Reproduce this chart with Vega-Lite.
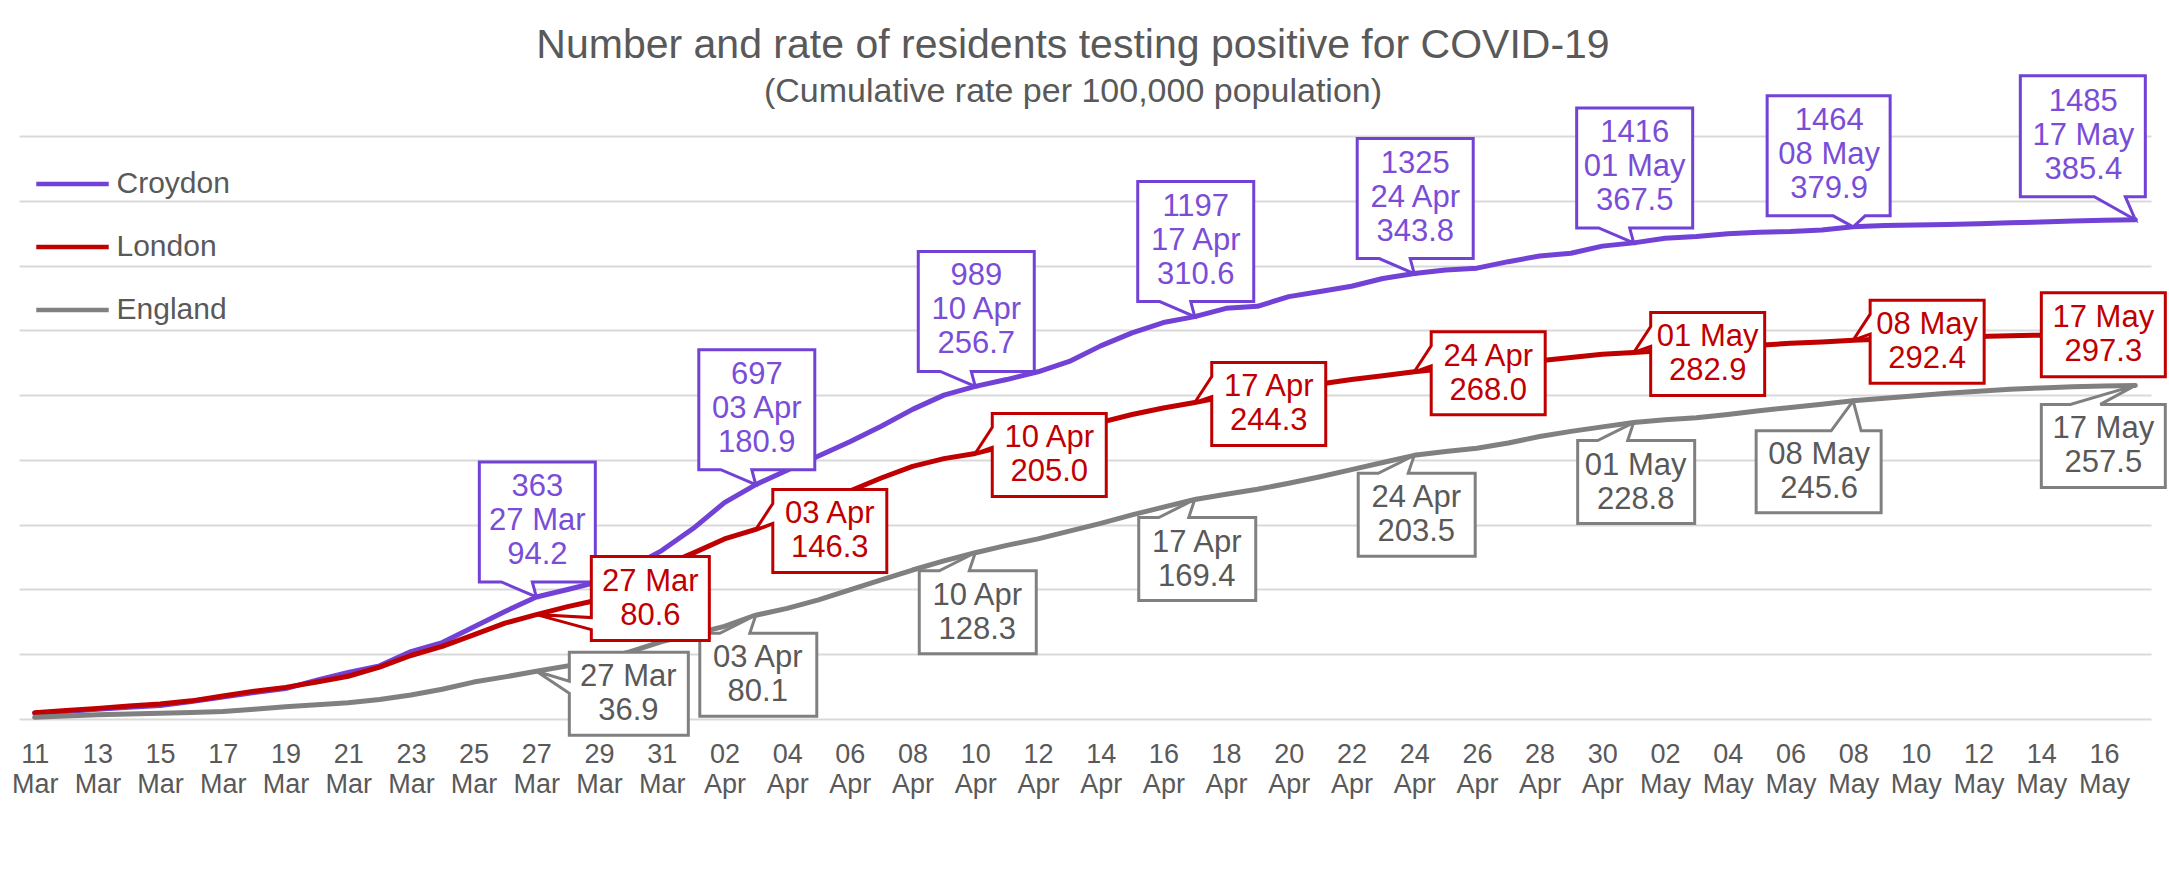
{
  "$schema": "https://vega.github.io/schema/vega-lite/v6.json",
  "width": 2132,
  "height": 583,
  "autosize": {"type": "none"},
  "padding": {"left": 19, "top": 136, "right": 18, "bottom": 162},
  "background": "white",
  "config": {"view": {"stroke": null}, "font": "Liberation Sans"},
  "title": {
    "text": "Number and rate of residents testing positive for COVID-19",
    "subtitle": "(Cumulative rate per 100,000 population)",
    "anchor": "middle",
    "dx": -12,
    "offset": -40,
    "fontSize": 41,
    "fontWeight": "normal",
    "font": "Liberation Sans",
    "color": "#595959",
    "subtitleFontSize": 34,
    "subtitleFont": "Liberation Sans",
    "subtitleColor": "#595959",
    "subtitlePadding": 8
  },
  "encoding": {
    "x": {
      "field": "date",
      "type": "temporal",
      "scale": {"type": "time", "domain": [{"year": 2020, "month": "mar", "date": 10, "hours": 12}, {"year": 2020, "month": "may", "date": 17, "hours": 12}]},
      "axis": {
        "title": null,
        "domain": false,
        "ticks": false,
        "grid": false,
        "tickCount": {"interval": "day", "step": 1},
        "labelExpr": "round((datum.value - datetime(2020,2,11))/86400000) % 2 === 0 ? [timeFormat(datum.value, '%d'), timeFormat(datum.value, '%b')] : ''",
        "labelFontSize": 27,
        "labelFont": "Liberation Sans",
        "labelColor": "#595959",
        "labelPadding": 22,
        "labelLineHeight": 30,
        "labelOverlap": false,
        "labelFlush": false,
        "labelBound": false
      }
    },
    "y": {
      "field": "rate",
      "type": "quantitative",
      "scale": {"domain": [0, 450], "nice": false, "zero": true},
      "axis": {
        "title": null,
        "values": [0, 50, 100, 150, 200, 250, 300, 350, 400, 450],
        "labels": false,
        "ticks": false,
        "domain": false,
        "grid": true,
        "gridColor": "#d9d9d9",
        "gridWidth": 2
      }
    }
  },
  "layer": [
    {
      "data": {
        "format": {"parse": {"date": "date"}},
        "values": [
          {"date": "2020/03/11", "area": "Croydon", "rate": 4.5},
          {"date": "2020/03/12", "area": "Croydon", "rate": 5.8},
          {"date": "2020/03/13", "area": "Croydon", "rate": 7.5},
          {"date": "2020/03/14", "area": "Croydon", "rate": 9.0},
          {"date": "2020/03/15", "area": "Croydon", "rate": 10.5},
          {"date": "2020/03/16", "area": "Croydon", "rate": 13.5},
          {"date": "2020/03/17", "area": "Croydon", "rate": 17.0},
          {"date": "2020/03/18", "area": "Croydon", "rate": 20.5},
          {"date": "2020/03/19", "area": "Croydon", "rate": 23.5},
          {"date": "2020/03/20", "area": "Croydon", "rate": 30.0},
          {"date": "2020/03/21", "area": "Croydon", "rate": 36.0},
          {"date": "2020/03/22", "area": "Croydon", "rate": 41.0},
          {"date": "2020/03/23", "area": "Croydon", "rate": 52.0},
          {"date": "2020/03/24", "area": "Croydon", "rate": 59.0},
          {"date": "2020/03/25", "area": "Croydon", "rate": 71.0},
          {"date": "2020/03/26", "area": "Croydon", "rate": 83.0},
          {"date": "2020/03/27", "area": "Croydon", "rate": 94.2},
          {"date": "2020/03/28", "area": "Croydon", "rate": 100.0},
          {"date": "2020/03/29", "area": "Croydon", "rate": 106.0},
          {"date": "2020/03/30", "area": "Croydon", "rate": 117.0},
          {"date": "2020/03/31", "area": "Croydon", "rate": 130.0},
          {"date": "2020/04/01", "area": "Croydon", "rate": 147.0},
          {"date": "2020/04/02", "area": "Croydon", "rate": 167.0},
          {"date": "2020/04/03", "area": "Croydon", "rate": 180.9},
          {"date": "2020/04/04", "area": "Croydon", "rate": 192.0},
          {"date": "2020/04/05", "area": "Croydon", "rate": 203.0},
          {"date": "2020/04/06", "area": "Croydon", "rate": 214.0},
          {"date": "2020/04/07", "area": "Croydon", "rate": 226.0},
          {"date": "2020/04/08", "area": "Croydon", "rate": 239.0},
          {"date": "2020/04/09", "area": "Croydon", "rate": 250.0},
          {"date": "2020/04/10", "area": "Croydon", "rate": 256.7},
          {"date": "2020/04/11", "area": "Croydon", "rate": 262.0},
          {"date": "2020/04/12", "area": "Croydon", "rate": 268.0},
          {"date": "2020/04/13", "area": "Croydon", "rate": 276.0},
          {"date": "2020/04/14", "area": "Croydon", "rate": 288.0},
          {"date": "2020/04/15", "area": "Croydon", "rate": 298.0},
          {"date": "2020/04/16", "area": "Croydon", "rate": 306.0},
          {"date": "2020/04/17", "area": "Croydon", "rate": 310.6},
          {"date": "2020/04/18", "area": "Croydon", "rate": 317.0},
          {"date": "2020/04/19", "area": "Croydon", "rate": 318.5},
          {"date": "2020/04/20", "area": "Croydon", "rate": 326.0},
          {"date": "2020/04/21", "area": "Croydon", "rate": 330.0},
          {"date": "2020/04/22", "area": "Croydon", "rate": 334.0},
          {"date": "2020/04/23", "area": "Croydon", "rate": 340.0},
          {"date": "2020/04/24", "area": "Croydon", "rate": 343.8},
          {"date": "2020/04/25", "area": "Croydon", "rate": 346.6},
          {"date": "2020/04/26", "area": "Croydon", "rate": 348.0},
          {"date": "2020/04/27", "area": "Croydon", "rate": 353.0},
          {"date": "2020/04/28", "area": "Croydon", "rate": 357.4},
          {"date": "2020/04/29", "area": "Croydon", "rate": 359.5},
          {"date": "2020/04/30", "area": "Croydon", "rate": 365.0},
          {"date": "2020/05/01", "area": "Croydon", "rate": 367.5},
          {"date": "2020/05/02", "area": "Croydon", "rate": 371.0},
          {"date": "2020/05/03", "area": "Croydon", "rate": 372.4},
          {"date": "2020/05/04", "area": "Croydon", "rate": 374.5},
          {"date": "2020/05/05", "area": "Croydon", "rate": 375.7},
          {"date": "2020/05/06", "area": "Croydon", "rate": 376.2},
          {"date": "2020/05/07", "area": "Croydon", "rate": 377.5},
          {"date": "2020/05/08", "area": "Croydon", "rate": 379.9},
          {"date": "2020/05/09", "area": "Croydon", "rate": 381.0},
          {"date": "2020/05/10", "area": "Croydon", "rate": 381.3},
          {"date": "2020/05/11", "area": "Croydon", "rate": 381.7},
          {"date": "2020/05/12", "area": "Croydon", "rate": 382.3},
          {"date": "2020/05/13", "area": "Croydon", "rate": 383.0},
          {"date": "2020/05/14", "area": "Croydon", "rate": 383.6},
          {"date": "2020/05/15", "area": "Croydon", "rate": 384.4},
          {"date": "2020/05/16", "area": "Croydon", "rate": 385.0},
          {"date": "2020/05/17", "area": "Croydon", "rate": 385.4},
          {"date": "2020/03/11", "area": "London", "rate": 4.9},
          {"date": "2020/03/12", "area": "London", "rate": 6.5},
          {"date": "2020/03/13", "area": "London", "rate": 8.2},
          {"date": "2020/03/14", "area": "London", "rate": 10.0},
          {"date": "2020/03/15", "area": "London", "rate": 11.6},
          {"date": "2020/03/16", "area": "London", "rate": 14.0},
          {"date": "2020/03/17", "area": "London", "rate": 17.8},
          {"date": "2020/03/18", "area": "London", "rate": 21.5},
          {"date": "2020/03/19", "area": "London", "rate": 24.4},
          {"date": "2020/03/20", "area": "London", "rate": 28.5},
          {"date": "2020/03/21", "area": "London", "rate": 33.0},
          {"date": "2020/03/22", "area": "London", "rate": 40.0},
          {"date": "2020/03/23", "area": "London", "rate": 49.0},
          {"date": "2020/03/24", "area": "London", "rate": 56.0},
          {"date": "2020/03/25", "area": "London", "rate": 65.0},
          {"date": "2020/03/26", "area": "London", "rate": 74.0},
          {"date": "2020/03/27", "area": "London", "rate": 80.6},
          {"date": "2020/03/28", "area": "London", "rate": 86.7},
          {"date": "2020/03/29", "area": "London", "rate": 92.0},
          {"date": "2020/03/30", "area": "London", "rate": 106.0},
          {"date": "2020/03/31", "area": "London", "rate": 117.6},
          {"date": "2020/04/01", "area": "London", "rate": 128.0},
          {"date": "2020/04/02", "area": "London", "rate": 139.0},
          {"date": "2020/04/03", "area": "London", "rate": 146.3},
          {"date": "2020/04/04", "area": "London", "rate": 156.0},
          {"date": "2020/04/05", "area": "London", "rate": 166.0},
          {"date": "2020/04/06", "area": "London", "rate": 176.0},
          {"date": "2020/04/07", "area": "London", "rate": 186.0},
          {"date": "2020/04/08", "area": "London", "rate": 195.0},
          {"date": "2020/04/09", "area": "London", "rate": 201.0},
          {"date": "2020/04/10", "area": "London", "rate": 205.0},
          {"date": "2020/04/11", "area": "London", "rate": 211.0},
          {"date": "2020/04/12", "area": "London", "rate": 217.0},
          {"date": "2020/04/13", "area": "London", "rate": 224.0},
          {"date": "2020/04/14", "area": "London", "rate": 229.0},
          {"date": "2020/04/15", "area": "London", "rate": 235.0},
          {"date": "2020/04/16", "area": "London", "rate": 240.0},
          {"date": "2020/04/17", "area": "London", "rate": 244.3},
          {"date": "2020/04/18", "area": "London", "rate": 249.0},
          {"date": "2020/04/19", "area": "London", "rate": 252.0},
          {"date": "2020/04/20", "area": "London", "rate": 255.0},
          {"date": "2020/04/21", "area": "London", "rate": 258.5},
          {"date": "2020/04/22", "area": "London", "rate": 262.0},
          {"date": "2020/04/23", "area": "London", "rate": 265.0},
          {"date": "2020/04/24", "area": "London", "rate": 268.0},
          {"date": "2020/04/25", "area": "London", "rate": 270.5},
          {"date": "2020/04/26", "area": "London", "rate": 272.0},
          {"date": "2020/04/27", "area": "London", "rate": 274.0},
          {"date": "2020/04/28", "area": "London", "rate": 276.5},
          {"date": "2020/04/29", "area": "London", "rate": 279.0},
          {"date": "2020/04/30", "area": "London", "rate": 281.5},
          {"date": "2020/05/01", "area": "London", "rate": 282.9},
          {"date": "2020/05/02", "area": "London", "rate": 284.5},
          {"date": "2020/05/03", "area": "London", "rate": 285.5},
          {"date": "2020/05/04", "area": "London", "rate": 287.0},
          {"date": "2020/05/05", "area": "London", "rate": 288.5},
          {"date": "2020/05/06", "area": "London", "rate": 290.0},
          {"date": "2020/05/07", "area": "London", "rate": 291.0},
          {"date": "2020/05/08", "area": "London", "rate": 292.4},
          {"date": "2020/05/09", "area": "London", "rate": 293.3},
          {"date": "2020/05/10", "area": "London", "rate": 294.0},
          {"date": "2020/05/11", "area": "London", "rate": 294.6},
          {"date": "2020/05/12", "area": "London", "rate": 295.3},
          {"date": "2020/05/13", "area": "London", "rate": 295.8},
          {"date": "2020/05/14", "area": "London", "rate": 296.3},
          {"date": "2020/05/15", "area": "London", "rate": 296.7},
          {"date": "2020/05/16", "area": "London", "rate": 297.0},
          {"date": "2020/05/17", "area": "London", "rate": 297.3},
          {"date": "2020/03/11", "area": "England", "rate": 1.3},
          {"date": "2020/03/12", "area": "England", "rate": 2.3},
          {"date": "2020/03/13", "area": "England", "rate": 3.3},
          {"date": "2020/03/14", "area": "England", "rate": 3.9},
          {"date": "2020/03/15", "area": "England", "rate": 4.4},
          {"date": "2020/03/16", "area": "England", "rate": 5.0},
          {"date": "2020/03/17", "area": "England", "rate": 5.7},
          {"date": "2020/03/18", "area": "England", "rate": 7.5},
          {"date": "2020/03/19", "area": "England", "rate": 9.5},
          {"date": "2020/03/20", "area": "England", "rate": 11.0},
          {"date": "2020/03/21", "area": "England", "rate": 12.6},
          {"date": "2020/03/22", "area": "England", "rate": 15.0},
          {"date": "2020/03/23", "area": "England", "rate": 18.5},
          {"date": "2020/03/24", "area": "England", "rate": 23.0},
          {"date": "2020/03/25", "area": "England", "rate": 28.5},
          {"date": "2020/03/26", "area": "England", "rate": 32.5},
          {"date": "2020/03/27", "area": "England", "rate": 36.9},
          {"date": "2020/03/28", "area": "England", "rate": 41.0},
          {"date": "2020/03/29", "area": "England", "rate": 45.5},
          {"date": "2020/03/30", "area": "England", "rate": 52.0},
          {"date": "2020/03/31", "area": "England", "rate": 59.7},
          {"date": "2020/04/01", "area": "England", "rate": 65.5},
          {"date": "2020/04/02", "area": "England", "rate": 71.5},
          {"date": "2020/04/03", "area": "England", "rate": 80.1},
          {"date": "2020/04/04", "area": "England", "rate": 85.4},
          {"date": "2020/04/05", "area": "England", "rate": 91.9},
          {"date": "2020/04/06", "area": "England", "rate": 99.6},
          {"date": "2020/04/07", "area": "England", "rate": 107.3},
          {"date": "2020/04/08", "area": "England", "rate": 115.0},
          {"date": "2020/04/09", "area": "England", "rate": 122.0},
          {"date": "2020/04/10", "area": "England", "rate": 128.3},
          {"date": "2020/04/11", "area": "England", "rate": 134.0},
          {"date": "2020/04/12", "area": "England", "rate": 139.0},
          {"date": "2020/04/13", "area": "England", "rate": 145.0},
          {"date": "2020/04/14", "area": "England", "rate": 151.0},
          {"date": "2020/04/15", "area": "England", "rate": 157.5},
          {"date": "2020/04/16", "area": "England", "rate": 163.5},
          {"date": "2020/04/17", "area": "England", "rate": 169.4},
          {"date": "2020/04/18", "area": "England", "rate": 173.5},
          {"date": "2020/04/19", "area": "England", "rate": 177.3},
          {"date": "2020/04/20", "area": "England", "rate": 182.0},
          {"date": "2020/04/21", "area": "England", "rate": 187.0},
          {"date": "2020/04/22", "area": "England", "rate": 192.5},
          {"date": "2020/04/23", "area": "England", "rate": 198.0},
          {"date": "2020/04/24", "area": "England", "rate": 203.5},
          {"date": "2020/04/25", "area": "England", "rate": 206.5},
          {"date": "2020/04/26", "area": "England", "rate": 209.0},
          {"date": "2020/04/27", "area": "England", "rate": 213.0},
          {"date": "2020/04/28", "area": "England", "rate": 218.0},
          {"date": "2020/04/29", "area": "England", "rate": 222.0},
          {"date": "2020/04/30", "area": "England", "rate": 225.5},
          {"date": "2020/05/01", "area": "England", "rate": 228.8},
          {"date": "2020/05/02", "area": "England", "rate": 231.0},
          {"date": "2020/05/03", "area": "England", "rate": 232.5},
          {"date": "2020/05/04", "area": "England", "rate": 235.0},
          {"date": "2020/05/05", "area": "England", "rate": 238.0},
          {"date": "2020/05/06", "area": "England", "rate": 240.5},
          {"date": "2020/05/07", "area": "England", "rate": 243.0},
          {"date": "2020/05/08", "area": "England", "rate": 245.6},
          {"date": "2020/05/09", "area": "England", "rate": 247.5},
          {"date": "2020/05/10", "area": "England", "rate": 249.5},
          {"date": "2020/05/11", "area": "England", "rate": 251.5},
          {"date": "2020/05/12", "area": "England", "rate": 253.0},
          {"date": "2020/05/13", "area": "England", "rate": 254.5},
          {"date": "2020/05/14", "area": "England", "rate": 255.5},
          {"date": "2020/05/15", "area": "England", "rate": 256.5},
          {"date": "2020/05/16", "area": "England", "rate": 257.0},
          {"date": "2020/05/17", "area": "England", "rate": 257.5}
        ]
      },
      "mark": {"type": "line", "strokeWidth": 5, "strokeCap": "round", "strokeJoin": "round"},
      "encoding": {
        "color": {
          "field": "area",
          "type": "nominal",
          "scale": {"domain": ["Croydon", "London", "England"], "range": ["#7241D6", "#C00000", "#808080"]},
          "legend": {
            "orient": "none",
            "legendX": 38.5,
            "legendY": 33,
            "title": null,
            "padding": 0,
            "symbolType": "M-5,0H5",
            "symbolSize": 210,
            "symbolStrokeWidth": 4.5,
            "labelFontSize": 30,
            "labelFont": "Liberation Sans",
            "labelColor": "#595959",
            "labelOffset": 29,
            "rowPadding": 33
          }
        }
      }
    },
    {
      "data": {
        "format": {"parse": {"date": "date"}},
        "values": [
          {"date": "2020/03/27", "area": "Croydon", "rate": 94.2, "cases": 363},
          {"date": "2020/04/03", "area": "Croydon", "rate": 180.9, "cases": 697},
          {"date": "2020/04/10", "area": "Croydon", "rate": 256.7, "cases": 989},
          {"date": "2020/04/17", "area": "Croydon", "rate": 310.6, "cases": 1197},
          {"date": "2020/04/24", "area": "Croydon", "rate": 343.8, "cases": 1325},
          {"date": "2020/05/01", "area": "Croydon", "rate": 367.5, "cases": 1416},
          {"date": "2020/05/08", "area": "Croydon", "rate": 379.9, "cases": 1464},
          {"date": "2020/05/17", "area": "Croydon", "rate": 385.4, "cases": 1485},
          {"date": "2020/03/27", "area": "London", "rate": 80.6},
          {"date": "2020/04/03", "area": "London", "rate": 146.3},
          {"date": "2020/04/10", "area": "London", "rate": 205.0},
          {"date": "2020/04/17", "area": "London", "rate": 244.3},
          {"date": "2020/04/24", "area": "London", "rate": 268.0},
          {"date": "2020/05/01", "area": "London", "rate": 282.9},
          {"date": "2020/05/08", "area": "London", "rate": 292.4},
          {"date": "2020/05/17", "area": "London", "rate": 297.3},
          {"date": "2020/03/27", "area": "England", "rate": 36.9},
          {"date": "2020/04/03", "area": "England", "rate": 80.1},
          {"date": "2020/04/10", "area": "England", "rate": 128.3},
          {"date": "2020/04/17", "area": "England", "rate": 169.4},
          {"date": "2020/04/24", "area": "England", "rate": 203.5},
          {"date": "2020/05/01", "area": "England", "rate": 228.8},
          {"date": "2020/05/08", "area": "England", "rate": 245.6},
          {"date": "2020/05/17", "area": "England", "rate": 257.5}
        ]
      },
      "layer": [
        {
          "transform": [{"filter": "datum.area === 'Croydon' && !(month(datum.date) === 4 && (date(datum.date) === 8 || date(datum.date) === 17))"}],
          "layer": [
            {"mark": {"type": "point", "shape": "M-57,-15L-35,-15L0,0L-4,-15L59,-15L59,-135L-57,-135Z", "size": 4, "filled": true, "fill": "white", "stroke": "#7241D6", "strokeWidth": 3, "opacity": 1, "fillOpacity": 1, "strokeOpacity": 1}},
            {"mark": {"type": "text", "text": {"expr": "[format(datum.cases, 'd'), timeFormat(datum.date, '%d %b'), format(datum.rate, '.1f')]"}, "dx": 1, "dy": -110, "fontSize": 31, "font": "Liberation Sans", "fill": "#7A4DD8", "align": "center", "baseline": "middle", "lineHeight": 34}}
          ]
        },
        {
          "transform": [{"filter": "datum.area === 'Croydon' && month(datum.date) === 4 && date(datum.date) === 8"}],
          "layer": [
            {"mark": {"type": "point", "shape": "M-86,-11L-20,-11L0,0L12,-11L37,-11L37,-131L-86,-131Z", "size": 4, "filled": true, "fill": "white", "stroke": "#7241D6", "strokeWidth": 3, "opacity": 1, "fillOpacity": 1, "strokeOpacity": 1}},
            {"mark": {"type": "text", "text": {"expr": "[format(datum.cases, 'd'), timeFormat(datum.date, '%d %b'), format(datum.rate, '.1f')]"}, "dx": -24, "dy": -106, "fontSize": 31, "font": "Liberation Sans", "fill": "#7A4DD8", "align": "center", "baseline": "middle", "lineHeight": 34}}
          ]
        },
        {
          "transform": [{"filter": "datum.area === 'Croydon' && month(datum.date) === 4 && date(datum.date) === 17"}],
          "layer": [
            {"mark": {"type": "point", "shape": "M-115,-23L-41,-23L0,0L-10,-23L10,-23L10,-144L-115,-144Z", "size": 4, "filled": true, "fill": "white", "stroke": "#7241D6", "strokeWidth": 3, "opacity": 1, "fillOpacity": 1, "strokeOpacity": 1}},
            {"mark": {"type": "text", "text": {"expr": "[format(datum.cases, 'd'), timeFormat(datum.date, '%d %b'), format(datum.rate, '.1f')]"}, "dx": -52, "dy": -118, "fontSize": 31, "font": "Liberation Sans", "fill": "#7A4DD8", "align": "center", "baseline": "middle", "lineHeight": 34}}
          ]
        },
        {
          "transform": [{"filter": "datum.area === 'England' && !(month(datum.date) === 2 && date(datum.date) === 27) && !(month(datum.date) === 4 && (date(datum.date) === 8 || date(datum.date) === 17))"}],
          "layer": [
            {"mark": {"type": "point", "shape": "M-56,18L-36,18L0,0L-6,18L61,18L61,101L-56,101Z", "size": 4, "filled": true, "fill": "white", "stroke": "#808080", "strokeWidth": 3, "opacity": 1, "fillOpacity": 1, "strokeOpacity": 1}},
            {"mark": {"type": "text", "text": {"expr": "[timeFormat(datum.date, '%d %b'), format(datum.rate, '.1f')]"}, "dx": 2, "dy": 43, "fontSize": 31, "font": "Liberation Sans", "fill": "#595959", "align": "center", "baseline": "middle", "lineHeight": 34}}
          ]
        },
        {
          "transform": [{"filter": "datum.area === 'England' && month(datum.date) === 2 && date(datum.date) === 27"}],
          "layer": [
            {"mark": {"type": "point", "shape": "M33,-19L152,-19L152,64L33,64L33,22L0,0L33,10Z", "size": 4, "filled": true, "fill": "white", "stroke": "#808080", "strokeWidth": 3, "opacity": 1, "fillOpacity": 1, "strokeOpacity": 1}},
            {"mark": {"type": "text", "text": {"expr": "[timeFormat(datum.date, '%d %b'), format(datum.rate, '.1f')]"}, "dx": 92, "dy": 6, "fontSize": 31, "font": "Liberation Sans", "fill": "#595959", "align": "center", "baseline": "middle", "lineHeight": 34}}
          ]
        },
        {
          "transform": [{"filter": "datum.area === 'England' && month(datum.date) === 4 && date(datum.date) === 8"}],
          "layer": [
            {"mark": {"type": "point", "shape": "M-97,30L-22,30L0,0L8,30L28,30L28,112L-97,112Z", "size": 4, "filled": true, "fill": "white", "stroke": "#808080", "strokeWidth": 3, "opacity": 1, "fillOpacity": 1, "strokeOpacity": 1}},
            {"mark": {"type": "text", "text": {"expr": "[timeFormat(datum.date, '%d %b'), format(datum.rate, '.1f')]"}, "dx": -34, "dy": 54, "fontSize": 31, "font": "Liberation Sans", "fill": "#595959", "align": "center", "baseline": "middle", "lineHeight": 34}}
          ]
        },
        {
          "transform": [{"filter": "datum.area === 'England' && month(datum.date) === 4 && date(datum.date) === 17"}],
          "layer": [
            {"mark": {"type": "point", "shape": "M-94,19L-65,19L0,0L-35,19L30,19L30,102L-94,102Z", "size": 4, "filled": true, "fill": "white", "stroke": "#808080", "strokeWidth": 3, "opacity": 1, "fillOpacity": 1, "strokeOpacity": 1}},
            {"mark": {"type": "text", "text": {"expr": "[timeFormat(datum.date, '%d %b'), format(datum.rate, '.1f')]"}, "dx": -32, "dy": 44, "fontSize": 31, "font": "Liberation Sans", "fill": "#595959", "align": "center", "baseline": "middle", "lineHeight": 34}}
          ]
        },
        {
          "transform": [{"filter": "datum.area === 'London' && !(month(datum.date) === 2 && date(datum.date) === 27) && !(month(datum.date) === 4 && date(datum.date) === 17)"}],
          "layer": [
            {"mark": {"type": "point", "shape": "M17,-40L131,-40L131,43L17,43L17,-6L0,0L17,-26Z", "size": 4, "filled": true, "fill": "white", "stroke": "#C00000", "strokeWidth": 3, "opacity": 1, "fillOpacity": 1, "strokeOpacity": 1}},
            {"mark": {"type": "text", "text": {"expr": "[timeFormat(datum.date, '%d %b'), format(datum.rate, '.1f')]"}, "dx": 74, "dy": -15, "fontSize": 31, "font": "Liberation Sans", "fill": "#C00000", "align": "center", "baseline": "middle", "lineHeight": 34}}
          ]
        },
        {
          "transform": [{"filter": "datum.area === 'London' && month(datum.date) === 2 && date(datum.date) === 27"}],
          "layer": [
            {"mark": {"type": "point", "shape": "M55,-58L173,-58L173,26L55,26L55,15L0,0L55,3Z", "size": 4, "filled": true, "fill": "white", "stroke": "#C00000", "strokeWidth": 3, "opacity": 1, "fillOpacity": 1, "strokeOpacity": 1}},
            {"mark": {"type": "text", "text": {"expr": "[timeFormat(datum.date, '%d %b'), format(datum.rate, '.1f')]"}, "dx": 114, "dy": -33, "fontSize": 31, "font": "Liberation Sans", "fill": "#C00000", "align": "center", "baseline": "middle", "lineHeight": 34}}
          ]
        },
        {
          "transform": [{"filter": "datum.area === 'London' && month(datum.date) === 4 && date(datum.date) === 17"}],
          "layer": [
            {"mark": {"type": "point", "shape": "M-94,-41L30,-41L30,43L-94,43Z", "size": 4, "filled": true, "fill": "white", "stroke": "#C00000", "strokeWidth": 3, "opacity": 1, "fillOpacity": 1, "strokeOpacity": 1}},
            {"mark": {"type": "text", "text": {"expr": "[timeFormat(datum.date, '%d %b'), format(datum.rate, '.1f')]"}, "dx": -32, "dy": -16, "fontSize": 31, "font": "Liberation Sans", "fill": "#C00000", "align": "center", "baseline": "middle", "lineHeight": 34}}
          ]
        }
      ]
    }
  ]
}
